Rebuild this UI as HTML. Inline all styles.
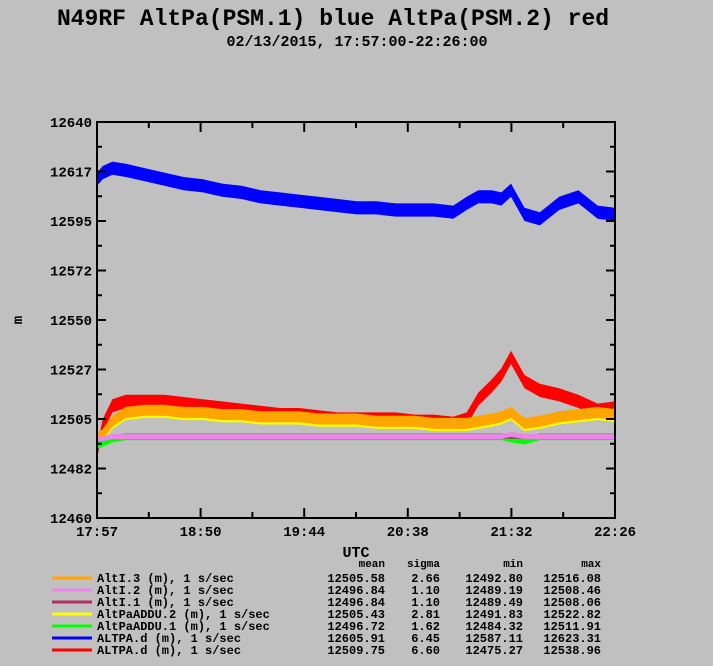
<!DOCTYPE html>
<html><head><meta charset="utf-8"><style>
body{margin:0;background:#c0c0c0;}
svg text{font-family:"Liberation Mono",monospace;font-weight:bold;fill:#000;}
</style></head><body>
<svg width="713" height="661" xmlns="http://www.w3.org/2000/svg">
<text x="333" y="25" font-size="23" text-anchor="middle">N49RF AltPa(PSM.1) blue AltPa(PSM.2) red</text>
<text x="357" y="46" font-size="15" text-anchor="middle">02/13/2015, 17:57:00-22:26:00</text>
<text x="22" y="320" font-size="14" text-anchor="middle" transform="rotate(-90 22 320)">m</text>
<text x="356" y="557" font-size="15" text-anchor="middle">UTC</text>
<g id="plot"></g>
<g id="axes"></g>
<g id="legend"></g>
</svg>
<script>
const times=[0,3,8,15,25,35,45,55,65,75,85,95,105,115,125,135,145,155,165,175,185,192,198,205,210,215,222,230,240,250,260,269];
const blueVals=[12614,12617,12619,12618,12616,12614,12612,12611,12609,12608,12606,12605,12604,12603,12602,12601,12601,12600,12600,12600,12599,12603,12606,12606,12605,12609,12598,12596,12603,12606,12599,12598];
const redVals=[12490,12502,12511,12513,12513,12513,12512,12511,12510,12509,12508,12507,12507,12506,12505,12505,12505,12505,12504,12504,12503,12505,12514,12520,12525,12533,12522,12518,12516,12513,12509,12510];
const orangeVals=[12496,12498,12504,12508,12509,12509,12508,12508,12507,12507,12506,12506,12506,12505,12505,12505,12504,12504,12504,12503,12503,12503,12504,12505,12506,12508,12503,12504,12506,12507,12508,12507];
const yellowVals=[12495,12497,12503,12507,12508,12508,12507,12507,12506,12506,12505,12505,12505,12504,12504,12504,12503,12503,12503,12502,12502,12502,12503,12504,12505,12507,12502,12503,12505,12506,12507,12506];
const greenVals=[12493,12494,12496,12497,12497,12497,12497,12497,12497,12497,12497,12497,12497,12497,12497,12497,12497,12497,12497,12497,12497,12497,12497,12497,12497,12496,12495,12497,12497,12497,12497,12497];
const pinkVals=[12496,12496,12497,12497,12497,12497,12497,12497,12497,12497,12497,12497,12497,12497,12497,12497,12497,12497,12497,12497,12497,12497,12497,12497,12497,12498,12497,12497,12497,12497,12497,12497];
const purpleVals=[12496,12496,12497,12497,12497,12497,12497,12497,12497,12497,12497,12497,12497,12497,12497,12497,12497,12497,12497,12497,12497,12497,12497,12497,12497,12497,12497,12497,12497,12497,12497,12497];
const yTicks=[12460,12482.5,12505,12527.5,12550,12572.5,12595,12617.5,12640];
const yTickLabels=["12460","12482","12505","12527","12550","12572","12595","12617","12640"];
const xTickLabels=["17:57","18:50","19:44","20:38","21:32","22:26"];
const legendNames=["AltI.3 (m), 1 s/sec","AltI.2 (m), 1 s/sec","AltI.1 (m), 1 s/sec","AltPaADDU.2 (m), 1 s/sec","AltPaADDU.1 (m), 1 s/sec","ALTPA.d (m), 1 s/sec","ALTPA.d (m), 1 s/sec"];
const legendMean=["12505.58","12496.84","12496.84","12505.43","12496.72","12605.91","12509.75"];
const legendSigma=["2.66","1.10","1.10","2.81","1.62","6.45","6.60"];
const legendMin=["12492.80","12489.19","12489.49","12491.83","12484.32","12587.11","12475.27"];
const legendMax=["12516.08","12508.46","12508.06","12522.82","12511.91","12623.31","12538.96"];
const legendColors=["#ffa500","#ee82ee","#b03060","#ffff00","#00ff00","#0000ff","#ff0000"];

const X0=97,X1=615,Y0=122,Y1=518,TMAX=269,VMIN=12460,VMAX=12640;
const xs=t=>X0+t/TMAX*(X1-X0);
const ys=v=>Y1-(v-VMIN)/(VMAX-VMIN)*(Y1-Y0);
const NS="http://www.w3.org/2000/svg";
function mk(tag,attrs,parent){const e=document.createElementNS(NS,tag);for(const k in attrs)e.setAttribute(k,attrs[k]);parent.appendChild(e);return e;}
const plot=document.getElementById('plot'),axes=document.getElementById('axes'),legend=document.getElementById('legend');

function series(vals,color,spread,name){
  const up=times.map((t,i)=>xs(t)+','+ys(vals[i]+spread)).join(' ');
  const lo=times.map((t,i)=>xs(t)+','+ys(vals[i]-spread)).reverse().join(' ');
  const band=mk('polygon',{points:up+' '+lo,fill:color},plot);
  
  
  const ln=mk('polyline',{points:times.map((t,i)=>xs(t)+','+ys(vals[i])).join(' '),fill:'none',stroke:color,'stroke-width':2},plot);
  
  
}
series(redVals,'#ff0000',3,'red-altpa-series');
series(yellowVals,'#ffff00',2.5,'yellow-altpaaddu2-series');
series(orangeVals,'#ffa500',2.5,'orange-alti3-series');
series(greenVals,'#00ff00',1.6,'green-altpaaddu1-series');
series(purpleVals,'#b03060',1,'purple-alti1-series');
series(pinkVals,'#ee82ee',1.1,'pink-alti2-series');
series(blueVals,'#0000ff',3,'blue-altpa-series');

const frame=mk('rect',{x:X0,y:Y0,width:X1-X0,height:Y1-Y0,fill:'none',stroke:'#000','stroke-width':2},axes);


yTicks.forEach((v,i)=>{
  const y=ys(v);
  const l=mk('line',{x1:X0,x2:X0+9,y1:y,y2:y,stroke:'#000','stroke-width':2},axes);
  
  
  const l2=mk('line',{x1:X1-9,x2:X1,y1:y,y2:y,stroke:'#000','stroke-width':2},axes);
  
  
  const tx=mk('text',{x:X0-5,y:y+5,'font-size':14,'text-anchor':'end'},axes);
  tx.textContent=yTickLabels[i];
  
  
  if(i<yTicks.length-1){const ym=ys((v+yTicks[i+1])/2);
    const m=mk('line',{x1:X0,x2:X0+5,y1:ym,y2:ym,stroke:'#000','stroke-width':2},axes);
    
    
    const m2=mk('line',{x1:X1-5,x2:X1,y1:ym,y2:ym,stroke:'#000','stroke-width':2},axes);
    
    }
});
xTickLabels.forEach((s,i)=>{
  const x=X0+i*(X1-X0)/(xTickLabels.length-1);
  const l=mk('line',{x1:x,x2:x,y1:Y1-10,y2:Y1,stroke:'#000','stroke-width':2},axes);
  
  
  const l2=mk('line',{x1:x,x2:x,y1:Y0,y2:Y0+10,stroke:'#000','stroke-width':2},axes);
  
  
  const tx=mk('text',{x:x,y:Y1+18,'font-size':14,'text-anchor':'middle'},axes);
  tx.textContent=s;
  
  
  if(i<xTickLabels.length-1){const xm=x+(X1-X0)/(xTickLabels.length-1)/2;
    const m=mk('line',{x1:xm,x2:xm,y1:Y1-6,y2:Y1,stroke:'#000','stroke-width':2},axes);
    
    
    const m2=mk('line',{x1:xm,x2:xm,y1:Y0,y2:Y0+6,stroke:'#000','stroke-width':2},axes);
    
    }
});
[["mean",385],["sigma",440],["min",523],["max",601]].forEach(h=>{
  const t=mk('text',{x:h[1],y:567,'font-size':11,'text-anchor':'end'},legend);
  t.textContent=h[0];
  
  
});
legendNames.forEach((n,i)=>{
  const y=578+i*12;
  const g=mk('g',{},legend);
  
  
  mk('line',{x1:52,x2:92,y1:y,y2:y,stroke:legendColors[i],'stroke-width':3},g);
  const cols=[[n,97,'start'],[legendMean[i],385,'end'],[legendSigma[i],440,'end'],[legendMin[i],523,'end'],[legendMax[i],601,'end']];
  cols.forEach(c=>{const t=mk('text',{x:c[1],y:y+4,'font-size':12,'text-anchor':c[2]},g);t.textContent=c[0];});
});
</script>
</body></html>
